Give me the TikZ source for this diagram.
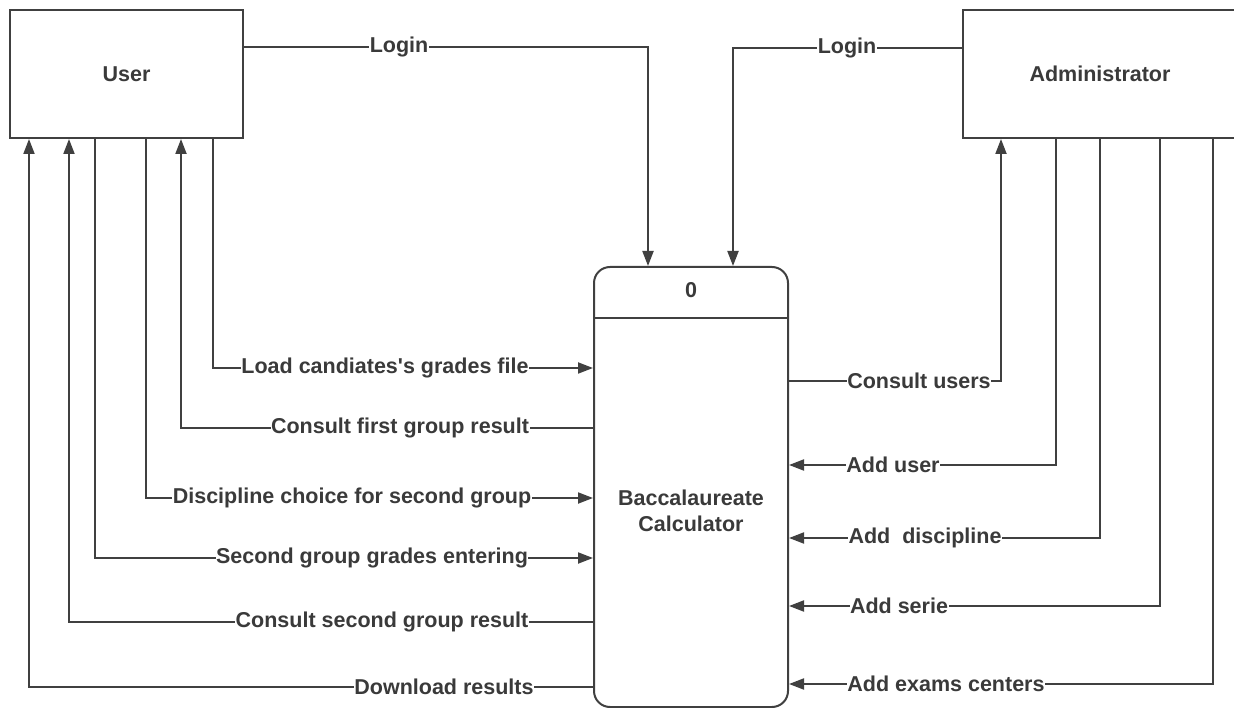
\documentclass[tikz,border=0pt]{standalone}
\usepackage{fontspec}
\setmainfont{Liberation Sans}[Ligatures=TeXOff]
\usetikzlibrary{arrows.meta}
\definecolor{ink}{RGB}{64,64,64}
\definecolor{txt}{RGB}{58,58,58}
\begin{document}
\begin{tikzpicture}[x=1pt,y=-1pt,
  every node/.style={font=\fontsize{21.5}{26}\selectfont\bfseries, text=txt},
  ent/.style={draw=ink, line width=2pt, fill=white, inner sep=0pt},
  proc/.style={draw=ink, line width=2pt, rounded corners=16pt, minimum width=194pt, minimum height=440pt, inner sep=0pt},
  conn/.style={draw=ink, line width=2pt},
  arr/.style={conn, -{Triangle[length=15pt,width=11pt]}},
  lbl/.style={fill=white, inner xsep=0.5pt, inner ysep=1pt}
]
\useasboundingbox (0,0) rectangle (1234,708);
\clip (0,0) rectangle (1234,708);

% entities
\node[ent, minimum width=233pt, minimum height=128pt] (user) at (126.5,74) {User};
\node[ent, minimum width=274pt, minimum height=128pt] (admin) at (1100,74) {Administrator};

% process
\node[proc] (proc) at (691,487) {};
\coordinate (div) at (0,318);
\draw[conn] (proc.west |- div) -- (proc.east |- div);
\node (pid) at (691,290) {0};
\node[align=center] (pname) at (691,511) {Baccalaureate\\Calculator};

% turning points
\coordinate (l0) at (648,47);
\coordinate (r0) at (733,48);
\coordinate (l1) at (213,368);
\coordinate (l2) at (181,428);
\coordinate (l3) at (146,498);
\coordinate (l4) at (95,558);
\coordinate (l5) at (69,622);
\coordinate (l6) at (29,687);
\coordinate (r1) at (1001,381);
\coordinate (r2) at (1056,465);
\coordinate (r3) at (1100,538);
\coordinate (r4) at (1160,606);
\coordinate (r5) at (1213,684);

% connectors
\draw[arr] (user.east |- l0) -| (proc.north -| l0);
\draw[arr] (admin.west |- r0) -| (proc.north -| r0);
\draw[arr] (user.south -| l1) |- (proc.west |- l1);
\draw[arr] (proc.west |- l2) -| (user.south -| l2);
\draw[arr] (user.south -| l3) |- (proc.west |- l3);
\draw[arr] (user.south -| l4) |- (proc.west |- l4);
\draw[arr] (proc.west |- l5) -| (user.south -| l5);
\draw[arr] (proc.west |- l6) -| (user.south -| l6);
\draw[arr] (proc.east |- r1) -| (admin.south -| r1);
\draw[arr] (admin.south -| r2) |- (proc.east |- r2);
\draw[arr] (admin.south -| r3) |- (proc.east |- r3);
\draw[arr] (admin.south -| r4) |- (proc.east |- r4);
\draw[arr] (admin.south -| r5) |- (proc.east |- r5);

% labels
\node[lbl] (t0) at (399,47) {Login};
\node[lbl] (t7) at (847,48) {Login};
\node[lbl] (t1) at (385,368) {Load candiates's grades file};
\node[lbl] (t2) at (400,428) {Consult first group result};
\node[lbl] (t3) at (352,498) {Discipline choice for second group};
\node[lbl] (t4) at (372,558) {Second group grades entering};
\node[lbl] (t5) at (382,622) {Consult second group result};
\node[lbl] (t6) at (444,687) {Download results};
\node[lbl] (t8) at (919,381) {Consult users};
\node[lbl] (t9) at (893,465) {Add user};
\node[lbl] (t10) at (925,538) {Add\ \ discipline};
\node[lbl] (t11) at (899,606) {Add serie};
\node[lbl] (t12) at (946,684) {Add exams centers};
\end{tikzpicture}
\end{document}
